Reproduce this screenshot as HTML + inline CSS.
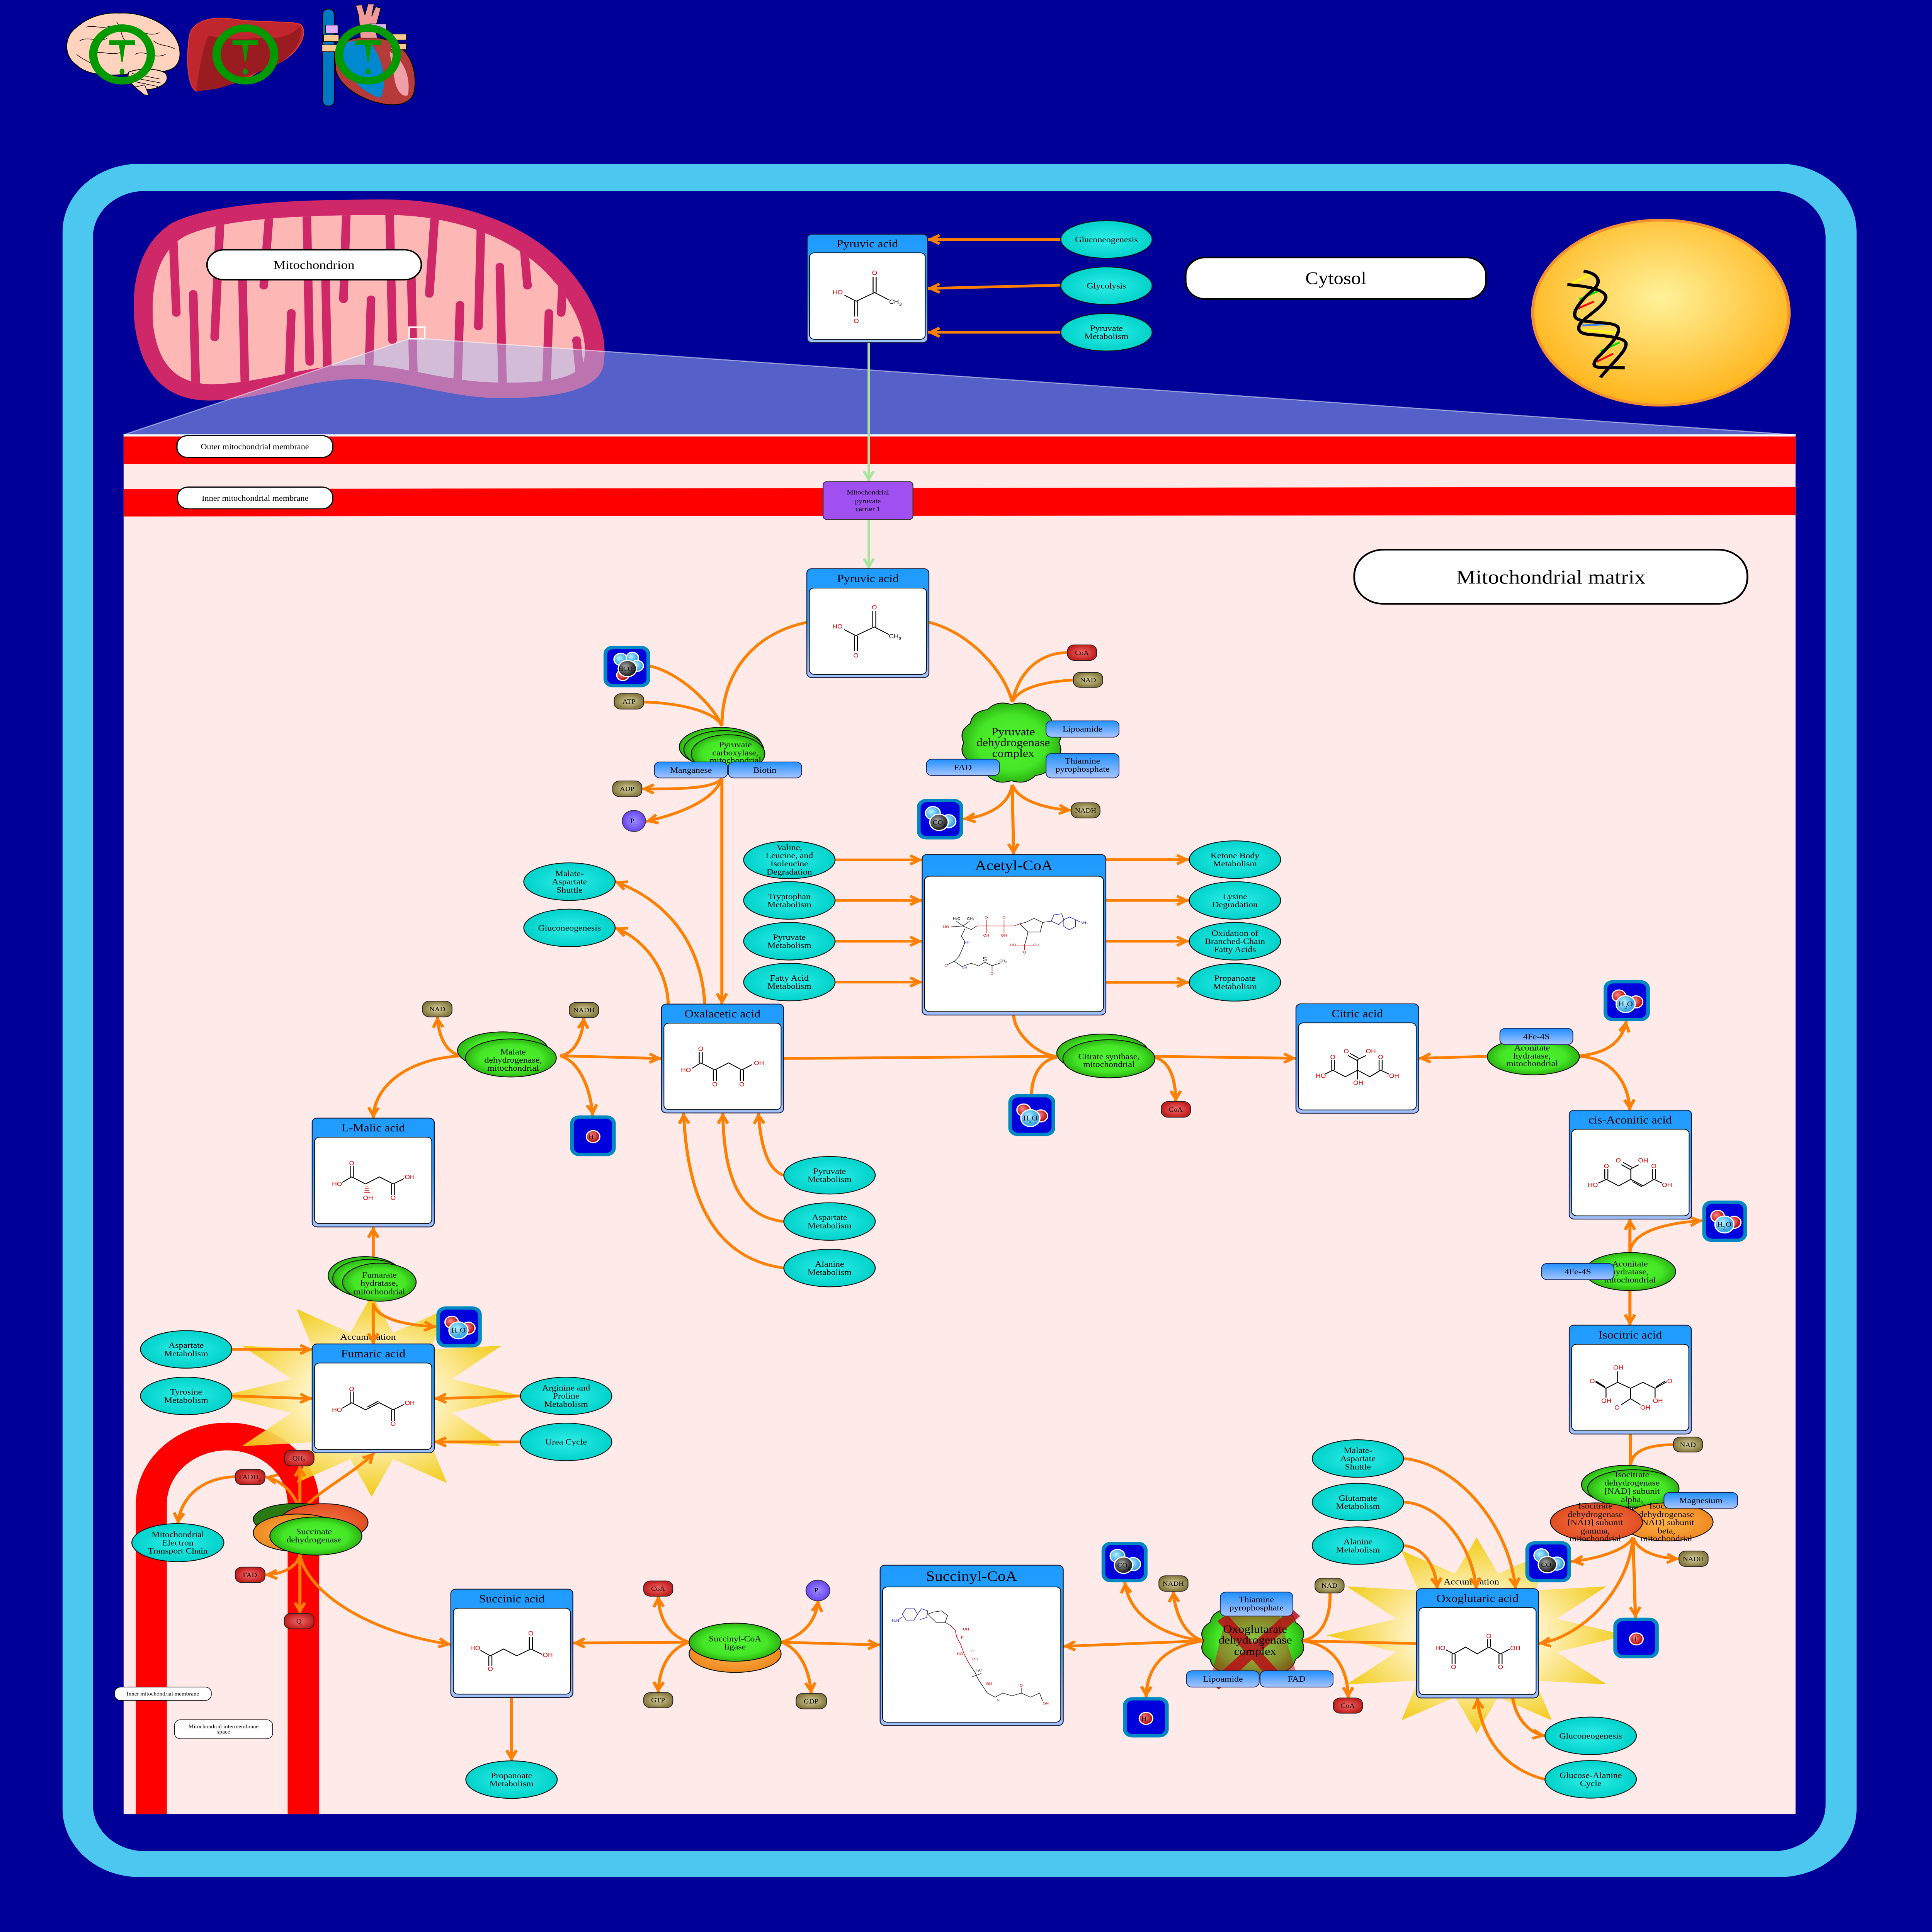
<!DOCTYPE html>
<html><head><meta charset="utf-8">
<style>
html,body{margin:0;padding:0;width:100%;height:100%;overflow:hidden;background:#000099;}
svg{display:block;width:100vw;height:100vh}
text{font-family:"Liberation Serif","DejaVu Serif",serif;text-anchor:middle;fill:#000}
.e{font-size:30px}
.k{font-size:24px}
.ch{font-family:"Liberation Sans","DejaVu Sans",sans-serif;font-size:22px;fill:#E00000}
.cb{font-family:"Liberation Sans","DejaVu Sans",sans-serif;font-size:22px;fill:#000}
.sm{font-family:"Liberation Sans","DejaVu Sans",sans-serif;font-size:13px;fill:#000}
.smr{font-family:"Liberation Sans","DejaVu Sans",sans-serif;font-size:13px;fill:#E00000}
.smb{font-family:"Liberation Sans","DejaVu Sans",sans-serif;font-size:13px;fill:#2020C0}
.c{fill:none;stroke:#FF8000;stroke-width:10}
.b{fill:none;stroke:#000;stroke-width:3}
.cy{fill:url(#cy);stroke:#111;stroke-width:3}
.gr{fill:url(#gr);stroke:#111;stroke-width:3}
.ol{fill:url(#ol);stroke:#222;stroke-width:2.5}
.rd{fill:url(#rd);stroke:#222;stroke-width:2.5}
.lb{fill:url(#lb);stroke:#10205a;stroke-width:2.5}
.bx{fill:url(#bx);stroke:#1a1a3a;stroke-width:3}
.in{fill:#fff;stroke:#000;stroke-width:2.5}
.t40{font-size:40px}
.t52{font-size:52px}
</style></head><body>
<svg width="6300" height="7100" viewBox="0 0 6300 7100" preserveAspectRatio="none" xmlns="http://www.w3.org/2000/svg">
<defs>
<marker id="a" viewBox="0 0 50 40" refX="45" refY="20" markerWidth="50" markerHeight="40" markerUnits="userSpaceOnUse" orient="auto" overflow="visible"><path d="M6,4 L36,20 L6,36" fill="none" stroke="#FF8000" stroke-width="10"/></marker>
<marker id="ag" viewBox="0 0 50 40" refX="45" refY="20" markerWidth="50" markerHeight="40" markerUnits="userSpaceOnUse" orient="auto" overflow="visible"><path d="M6,4 L36,20 L6,36" fill="none" stroke="#A8E4A0" stroke-width="9"/></marker>
<linearGradient id="bx" x1="0" y1="0" x2="0" y2="1"><stop offset="0" stop-color="#1E9BFF"/><stop offset="0.45" stop-color="#2E9FFF"/><stop offset="1" stop-color="#A3C2FF"/></linearGradient>
<linearGradient id="lb" x1="0" y1="0" x2="0" y2="1"><stop offset="0" stop-color="#2090FF"/><stop offset="1" stop-color="#A8C4FF"/></linearGradient>
<radialGradient id="cy"><stop offset="0" stop-color="#30EEE8"/><stop offset="1" stop-color="#00D2CA"/></radialGradient>
<radialGradient id="gr"><stop offset="0" stop-color="#52F532"/><stop offset="0.7" stop-color="#44E626"/><stop offset="1" stop-color="#2CB412"/></radialGradient>
<radialGradient id="ol"><stop offset="0" stop-color="#DAD2A0"/><stop offset="1" stop-color="#85793E"/></radialGradient>
<radialGradient id="rd"><stop offset="0" stop-color="#F46A6A"/><stop offset="1" stop-color="#C21E1E"/></radialGradient>
<radialGradient id="pu"><stop offset="0" stop-color="#A090FF"/><stop offset="1" stop-color="#6644F4"/></radialGradient>
<radialGradient id="or"><stop offset="0" stop-color="#FFB24A"/><stop offset="1" stop-color="#EE8A20"/></radialGradient>
<radialGradient id="orr"><stop offset="0" stop-color="#F87444"/><stop offset="1" stop-color="#E04E22"/></radialGradient>
<radialGradient id="nuc" cx="0.5" cy="0.42" r="0.6"><stop offset="0" stop-color="#FFF29A"/><stop offset="1" stop-color="#FFB216"/></radialGradient>
<radialGradient id="star"><stop offset="0" stop-color="#FFFFF4"/><stop offset="0.45" stop-color="#FFF2B8"/><stop offset="1" stop-color="#F0C800"/></radialGradient>
<radialGradient id="rb" cx="0.4" cy="0.4"><stop offset="0" stop-color="#FF8A8A"/><stop offset="1" stop-color="#C01818"/></radialGradient>
<radialGradient id="bb" cx="0.4" cy="0.4"><stop offset="0" stop-color="#B8F4FF"/><stop offset="1" stop-color="#3AA8E8"/></radialGradient>
<radialGradient id="gb" cx="0.4" cy="0.4"><stop offset="0" stop-color="#B0B0B0"/><stop offset="1" stop-color="#2A2A2A"/></radialGradient>
<radialGradient id="ogx"><stop offset="0" stop-color="#B8B860"/><stop offset="1" stop-color="#C02020"/></radialGradient>
<clipPath id="mclip"><path d="M1267,790 C1480,792 1660,870 1770,990 C1880,1110 1918,1240 1905,1320 C1890,1400 1760,1410 1600,1405 C1450,1400 1300,1340 1170,1340 C1000,1340 850,1410 690,1412 C560,1410 515,1320 500,1200 C490,1060 510,930 600,870 C720,800 1000,790 1267,790Z"/></clipPath>
</defs>

<!-- background & cell -->
<rect width="6300" height="7100" fill="#000099"/>
<rect x="204" y="602" width="5850" height="6296" rx="250" fill="#4CC8F0"/>
<rect x="303" y="702" width="5650" height="6101" rx="170" fill="#000099"/>

<!-- organs -->
<g>
<path d="M245,235 C205,200 210,130 250,100 C290,60 340,45 390,48 C450,45 520,70 560,120 C590,160 595,210 575,240 C560,262 520,268 480,262 C430,268 390,280 340,275 C300,272 270,262 245,235 Z" fill="#FFD3BD" stroke="#000" stroke-width="3"/>
<path d="M420,265 C450,250 520,250 540,270 C560,300 520,330 470,330 C430,325 410,290 420,265Z" fill="#FFD3BD" stroke="#000" stroke-width="3"/>
<path d="M440,320 L470,348 L485,350 L472,312Z" fill="#FFD3BD" stroke="#000" stroke-width="2"/>
<path d="M260,150 C290,130 320,160 350,140 M300,200 C330,180 360,210 400,190 M420,120 C450,100 480,140 520,120 M280,100 C310,90 330,110 360,95 M440,200 C470,180 500,220 540,200 M250,200 C270,220 300,230 320,250 M430,270 L520,290 M430,285 L525,305 M440,300 L515,318 M380,80 C400,110 390,140 420,160 M500,150 C520,170 550,165 570,180" fill="none" stroke="#000" stroke-width="2"/>
<path d="M620,120 C640,70 700,60 760,70 C850,85 950,75 980,90 C1000,110 990,160 950,200 C900,250 850,250 820,280 C790,300 720,320 640,335 C610,320 605,200 620,120Z" fill="#C0262E" stroke="#E04030" stroke-width="3"/>
<path d="M680,130 C750,150 800,140 880,140 C930,140 960,120 980,95 C990,150 950,210 900,240 C850,270 800,270 770,300 C740,320 700,330 640,335 C650,250 660,180 680,130Z" fill="#9A1C20"/>
<path d="M1090,200 C1100,140 1200,120 1270,150 C1340,180 1360,260 1352,330 C1345,380 1300,392 1250,382 C1180,368 1110,320 1095,260 Z" fill="#B53A3A" stroke="#000" stroke-width="3"/>
<path d="M1105,180 C1115,250 1160,330 1240,360 C1265,310 1250,220 1210,160 C1170,140 1120,150 1105,180Z" fill="#0088D0"/>
<path d="M1270,190 C1320,220 1340,290 1330,350 C1310,360 1290,330 1285,280Z" fill="#F0A0A8"/>
<path d="M1175,140 L1170,60 L1160,20 L1180,18 L1190,55 L1200,15 L1220,15 L1212,60 L1225,25 L1242,30 L1225,100 L1230,140Z" fill="#F09A9A" stroke="#000" stroke-width="2"/>
<rect x="1052" y="33" width="38" height="357" rx="19" fill="#0078C4" stroke="#000" stroke-width="3"/>
<rect x="1062" y="92" width="40" height="30" fill="#E0B0FF" stroke="#000" stroke-width="2"/>
<rect x="1205" y="88" width="55" height="28" fill="#E0B0FF" stroke="#000" stroke-width="2"/>
<rect x="1055" y="128" width="50" height="25" fill="#FFC890" stroke="#000" stroke-width="2"/>
<rect x="1050" y="165" width="50" height="25" fill="#FFC890" stroke="#000" stroke-width="2"/>
<rect x="1270" y="125" width="55" height="22" fill="#FFC890" stroke="#000" stroke-width="2"/>
<rect x="1275" y="160" width="50" height="22" fill="#FFC890" stroke="#000" stroke-width="2"/>
<g fill="none" stroke="#009900" stroke-width="27">
<ellipse cx="398" cy="200" rx="94" ry="97"/><ellipse cx="800" cy="200" rx="94" ry="97"/><ellipse cx="1200" cy="200" rx="94" ry="97"/>
</g>
<g fill="#009900">
<rect x="356" y="148" width="84" height="18"/><polygon points="388,166 408,166 400,227 396,227"/><ellipse cx="398" cy="263" rx="8" ry="11"/>
<rect x="758" y="148" width="84" height="18"/><polygon points="790,166 810,166 802,227 798,227"/><ellipse cx="800" cy="263" rx="8" ry="11"/>
<rect x="1158" y="148" width="84" height="18"/><polygon points="1190,166 1210,166 1202,227 1198,227"/><ellipse cx="1200" cy="263" rx="8" ry="11"/>
</g>
</g>

<!-- mitochondrion -->
<path d="M1267,733 C1500,735 1700,820 1820,950 C1940,1080 1985,1230 1968,1340 C1955,1440 1790,1468 1600,1462 C1450,1455 1300,1393 1170,1393 C1000,1393 850,1472 680,1472 C520,1470 460,1350 440,1200 C425,1050 450,900 560,820 C700,740 1000,733 1267,733Z" fill="#CF2868"/>
<path d="M1267,790 C1480,792 1660,870 1770,990 C1880,1110 1918,1240 1905,1320 C1890,1400 1760,1410 1600,1405 C1450,1400 1300,1340 1170,1340 C1000,1340 850,1410 690,1412 C560,1410 515,1320 500,1200 C490,1060 510,930 600,870 C720,800 1000,790 1267,790Z" fill="#FDB8B6"/>
<g clip-path="url(#mclip)" stroke="#CF2868" stroke-width="28" stroke-linecap="round" fill="none">
<path d="M560,760 L575,1150 M720,760 L700,1240 M880,760 L860,1050 M1000,760 L1010,1330 M1130,760 L1120,1100 M1270,760 L1280,1250 M1420,760 L1400,1080 M1570,760 L1560,1200 M1700,800 L1720,1050 M1840,900 L1830,1150"/>
<path d="M640,1480 L630,1080 M800,1480 L790,1000 M940,1480 L950,1150 M1070,1480 L1060,940 M1200,1480 L1210,1100 M1350,1480 L1340,950 M1490,1480 L1500,1120 M1640,1480 L1630,980 M1780,1480 L1790,1150 M1900,1480 L1880,1250"/>
</g>
<rect x="675" y="918" width="699" height="110" rx="55" fill="#fff" stroke="#000" stroke-width="5"/>
<text x="1024" y="988" font-size="44">Mitochondrion</text>

<!-- nucleus -->
<ellipse cx="5416" cy="1149" rx="418" ry="340" fill="url(#nuc)" stroke="#F49030" stroke-width="10"/>
<g stroke-width="7">
<line x1="5125" y1="1042" x2="5185" y2="1008" stroke="#FFFF00"/>
<line x1="5150" y1="1100" x2="5215" y2="1068" stroke="#00E000"/>
<line x1="5132" y1="1140" x2="5198" y2="1108" stroke="#FF0000"/>
<line x1="5160" y1="1196" x2="5262" y2="1190" stroke="#4080FF"/>
<line x1="5155" y1="1212" x2="5270" y2="1222" stroke="#FFFF00"/>
<line x1="5220" y1="1290" x2="5282" y2="1258" stroke="#00E000"/>
<line x1="5205" y1="1330" x2="5260" y2="1300" stroke="#FF0000"/>
</g>
<g fill="none" stroke="#000" stroke-width="11">
<path d="M5164,996 C5230,1010 5215,1050 5190,1070 C5160,1100 5110,1160 5149,1175 C5190,1190 5270,1180 5277,1205 C5285,1235 5230,1290 5205,1320 C5190,1345 5200,1352 5232,1350 L5298,1352"/>
<path d="M5111,1046 C5160,1050 5230,1060 5236,1089 C5240,1115 5190,1150 5165,1175 C5140,1200 5140,1225 5182,1229 C5230,1233 5300,1240 5302,1262 C5305,1290 5260,1330 5219,1387"/>
</g>

<!-- cytosol label -->
<rect x="3866" y="946" width="980" height="153" rx="65" fill="#fff" stroke="#000" stroke-width="6"/>
<text x="4356" y="1044" font-size="64">Cytosol</text>

<!-- matrix -->
<rect x="403" y="1598" width="5452" height="5069" fill="#FFEAEA"/>
<rect x="403" y="1596" width="5452" height="8" fill="#fff"/>
<rect x="403" y="1604" width="5452" height="101" fill="#FF0000"/>
<polygon points="403,1797 5855,1789 5855,1893 403,1898" fill="#FF0000"/>
<!-- lens -->
<polygon points="1334,1245 1385,1245 5855,1598 403,1598" fill="#AAC0F7" fill-opacity="0.5"/>
<path d="M1334,1245 L403,1598 M1385,1245 L5855,1598" stroke="#fff" stroke-opacity="0.5" stroke-width="4"/>
<rect x="1334" y="1202" width="51" height="43" fill="none" stroke="#fff" stroke-width="5"/>

<rect x="577" y="1601" width="508" height="80" rx="35" fill="#fff" stroke="#000" stroke-width="4"/>
<text x="831" y="1651" font-size="28">Outer mitochondrial membrane</text>
<rect x="579" y="1790" width="506" height="80" rx="35" fill="#fff" stroke="#000" stroke-width="4"/>
<text x="832" y="1840" font-size="28">Inner mitochondrial membrane</text>

<rect x="4416" y="2020" width="1282" height="199" rx="95" fill="#fff" stroke="#000" stroke-width="6"/>
<text x="5057" y="2145" font-size="72">Mitochondrial matrix</text>

<!-- red arch membrane -->
<path d="M443,6667 L443,5527 A299,299 0 0 1 1041,5527 L1041,6667 L938,6667 L938,5527 A197,197 0 0 0 544,5527 L544,6667 Z" fill="#FF0000"/>
<rect x="374" y="6200" width="315" height="49" rx="20" fill="#fff" stroke="#000" stroke-width="2"/>
<text x="531" y="6231" font-size="19">Inner mitochondrial membrane</text>
<rect x="569" y="6320" width="320" height="70" rx="20" fill="#fff" stroke="#000" stroke-width="2"/>
<text font-size="19"><tspan x="729" y="6351">Mitochondrial intermembrane</tspan><tspan x="729" y="6371">space</tspan></text>

<!-- starbursts -->
<polygon fill="url(#star)" fill-opacity="0.9" points="1702,5130 1473,5192 1636,5315 1403,5300 1457,5450 1282,5362 1212,5500 1142,5362 967,5450 1021,5300 788,5315 951,5192 722,5130 951,5068 788,4945 1021,4960 967,4810 1142,4898 1212,4760 1282,4898 1457,4810 1403,4960 1636,4945 1473,5068"/>
<polygon fill="url(#star)" fill-opacity="0.9" points="5305,6010 5076,6071 5239,6190 5006,6176 5060,6322 4885,6237 4815,6370 4745,6237 4570,6322 4624,6176 4391,6190 4554,6071 4325,6010 4554,5949 4391,5830 4624,5844 4570,5698 4745,5783 4815,5650 4885,5783 5060,5698 5006,5844 5239,5830 5076,5949"/>
<text x="1200" y="4923" font-size="32">Accumulation</text>
<text x="4798" y="5823" font-size="32">Accumulation</text>

<!-- connectors -->
<path class="c" marker-end="url(#a)" d="M3459,880 L3025,880"/>
<path class="c" marker-end="url(#a)" d="M3459,1048 L3025,1060"/>
<path class="c" marker-end="url(#a)" d="M3459,1221 L3025,1221"/>
<path d="M2833,1259 L2833,1770" stroke="#A8E4A0" stroke-width="8" marker-end="url(#ag)"/>
<path d="M2833,1909 L2833,2092" stroke="#A8E4A0" stroke-width="8" marker-end="url(#ag)"/>

<path class="c" d="M2631,2287 C2450,2330 2354,2480 2354,2668"/>
<path class="c" d="M2120,2448 C2210,2470 2320,2580 2354,2668"/>
<path class="c" d="M2099,2580 C2200,2582 2330,2610 2354,2668"/>
<path class="c" marker-end="url(#a)" d="M2354,2860 C2330,2900 2200,2900 2093,2899"/>
<path class="c" marker-end="url(#a)" d="M2354,2860 C2330,2940 2220,2990 2106,3019"/>
<path class="c" marker-end="url(#a)" d="M2354,2830 L2354,3690"/>
<path class="c" d="M3029,2287 C3150,2320 3270,2450 3301,2580"/>
<path class="c" d="M3481,2398 C3380,2400 3320,2480 3301,2580"/>
<path class="c" d="M3500,2499 C3400,2505 3320,2530 3301,2580"/>
<path class="c" marker-end="url(#a)" d="M3301,2884 C3290,2960 3220,3000 3141,3010"/>
<path class="c" marker-end="url(#a)" d="M3301,2884 C3320,2940 3400,2970 3493,2978"/>
<path class="c" marker-end="url(#a)" d="M3301,2884 L3305,3140"/>
<path class="c" marker-end="url(#a)" d="M2724,3160 L3007,3160"/>
<path class="c" marker-end="url(#a)" d="M2724,3309 L3007,3309"/>
<path class="c" marker-end="url(#a)" d="M2724,3459 L3007,3459"/>
<path class="c" marker-end="url(#a)" d="M2724,3609 L3007,3609"/>
<path class="c" marker-end="url(#a)" d="M3606,3159 L3877,3159"/>
<path class="c" marker-end="url(#a)" d="M3606,3309 L3877,3309"/>
<path class="c" marker-end="url(#a)" d="M3606,3459 L3877,3459"/>
<path class="c" marker-end="url(#a)" d="M3606,3610 L3877,3610"/>
<path class="c" marker-end="url(#a)" d="M2298,3690 C2290,3500 2200,3320 2006,3240"/>
<path class="c" marker-end="url(#a)" d="M2179,3690 C2175,3560 2100,3450 2006,3410"/>
<path class="c" d="M3305,3730 C3310,3800 3380,3875 3446,3882"/>
<path class="c" d="M2555,3890 L3446,3882"/>
<path class="c" d="M3446,3886 C3390,3895 3364,3960 3364,4021"/>
<path class="c" marker-end="url(#a)" d="M3765,3882 L4226,3889"/>
<path class="c" marker-end="url(#a)" d="M3765,3886 C3820,3900 3834,3980 3834,4048"/>
<path class="c" marker-end="url(#a)" d="M4850,3882 L4626,3889"/>
<path class="c" marker-end="url(#a)" d="M5151,3880 C5240,3870 5290,3830 5303,3753"/>
<path class="c" marker-end="url(#a)" d="M5151,3882 C5260,3890 5310,3980 5315,4080"/>
<path class="c" marker-end="url(#a)" d="M5315,4603 L5315,4480"/>
<path class="c" marker-end="url(#a)" d="M5315,4603 C5320,4530 5420,4495 5551,4486"/>
<path class="c" marker-end="url(#a)" d="M5315,4744 L5315,4870"/>
<path class="c" d="M5317,5270 L5317,5390"/>
<path class="c" d="M5457,5309 C5360,5310 5317,5340 5317,5390"/>
<path class="c" marker-end="url(#a)" d="M5325,5650 C5300,5700 5200,5730 5123,5739"/>
<path class="c" marker-end="url(#a)" d="M5325,5650 C5340,5700 5400,5725 5475,5729"/>
<path class="c" marker-end="url(#a)" d="M5325,5650 L5333,5945"/>
<path class="c" marker-end="url(#a)" d="M5325,5650 C5310,5850 5150,6020 5017,6040"/>
<path class="c" d="M4619,6040 L4245,6030"/>
<path class="c" d="M4337,5854 C4340,5960 4300,6020 4245,6030"/>
<path class="c" marker-end="url(#a)" d="M4245,6030 C4340,6040 4396,6120 4396,6240"/>
<path class="c" marker-end="url(#a)" d="M3925,6030 L3467,6050"/>
<path class="c" marker-end="url(#a)" d="M3925,6030 C3780,6010 3680,5930 3668,5815"/>
<path class="c" marker-end="url(#a)" d="M3925,6030 C3860,6010 3830,5920 3826,5848"/>
<path class="c" marker-end="url(#a)" d="M3925,6030 C3800,6050 3740,6120 3737,6237"/>
<path class="c" marker-end="url(#a)" d="M4579,5360 C4750,5380 4920,5600 4942,5838"/>
<path class="c" marker-end="url(#a)" d="M4579,5520 C4700,5530 4800,5680 4814,5838"/>
<path class="c" marker-end="url(#a)" d="M4579,5680 C4650,5690 4680,5760 4687,5838"/>
<path class="c" marker-end="url(#a)" d="M4931,6221 C4935,6300 4980,6370 5038,6379"/>
<path class="c" marker-end="url(#a)" d="M5038,6539 C4900,6500 4830,6380 4817,6240"/>
<path class="c" marker-end="url(#a)" d="M2247,6035 L1868,6038"/>
<path class="c" marker-end="url(#a)" d="M2548,6035 L2870,6045"/>
<path class="c" marker-end="url(#a)" d="M2247,6035 C2180,6010 2150,5950 2146,5866"/>
<path class="c" marker-end="url(#a)" d="M2548,6035 C2620,6010 2660,5960 2668,5883"/>
<path class="c" marker-end="url(#a)" d="M2247,6035 C2180,6060 2150,6130 2146,6220"/>
<path class="c" marker-end="url(#a)" d="M2548,6035 C2610,6060 2640,6140 2645,6223"/>
<path class="c" marker-end="url(#a)" d="M1668,6238 L1668,6471"/>
<path class="c" marker-end="url(#a)" d="M978,5712 C1000,5850 1200,6000 1470,6043"/>
<path class="c" marker-end="url(#a)" d="M978,5560 C1030,5480 1150,5420 1220,5339"/>
<path class="c" marker-end="url(#a)" d="M978,5560 L978,5387"/>
<path class="c" marker-end="url(#a)" d="M978,5560 C965,5490 920,5440 864,5427"/>
<path class="c" marker-end="url(#a)" d="M767,5427 C660,5430 590,5500 580,5599"/>
<path class="c" marker-end="url(#a)" d="M978,5712 C970,5760 920,5785 864,5788"/>
<path class="c" marker-end="url(#a)" d="M978,5712 L978,5929"/>
<path class="c" marker-end="url(#a)" d="M1217,4618 L1217,4509"/>
<path class="c" marker-end="url(#a)" d="M1217,4790 L1217,4939"/>
<path class="c" marker-end="url(#a)" d="M1217,4790 C1230,4850 1330,4870 1423,4876"/>
<path class="c" marker-end="url(#a)" d="M1506,3880 C1330,3890 1220,3990 1217,4109"/>
<path class="c" marker-end="url(#a)" d="M1506,3880 C1450,3870 1430,3800 1426,3737"/>
<path class="c" marker-end="url(#a)" d="M1826,3880 C1880,3870 1900,3800 1904,3740"/>
<path class="c" marker-end="url(#a)" d="M1826,3880 L2157,3890"/>
<path class="c" marker-end="url(#a)" d="M1826,3880 C1890,3900 1925,4000 1933,4099"/>
<path class="c" marker-end="url(#a)" d="M756,4959 L1018,4959"/>
<path class="c" marker-end="url(#a)" d="M756,5130 L1018,5140"/>
<path class="c" marker-end="url(#a)" d="M1697,5130 L1416,5140"/>
<path class="c" marker-end="url(#a)" d="M1697,5299 L1416,5299"/>
<path class="c" marker-end="url(#a)" d="M2556,4319 C2500,4300 2480,4200 2473,4090"/>
<path class="c" marker-end="url(#a)" d="M2556,4489 C2400,4470 2360,4300 2357,4090"/>
<path class="c" marker-end="url(#a)" d="M2556,4660 C2300,4620 2240,4350 2229,4090"/>

<!-- carrier -->
<rect x="2684" y="1770" width="293" height="139" rx="12" fill="#A050F0" stroke="#333" stroke-width="3"/>
<text font-size="24"><tspan x="2830" y="1817">Mitochondrial</tspan><tspan x="2830" y="1849">pyruvate</tspan><tspan x="2830" y="1878">carrier 1</tspan></text>

<!-- boxes -->
<g>
<rect class="bx" x="2632" y="861" width="393" height="398" rx="16"/><rect class="in" x="2640" y="929" width="377" height="318" rx="16"/><text class="t40" x="2828" y="909">Pyruvic acid</text>
<rect class="bx" x="2631" y="2090" width="398" height="400" rx="16"/><rect class="in" x="2639" y="2161" width="382" height="317" rx="16"/><text class="t40" x="2830" y="2139">Pyruvic acid</text>
<rect class="bx" x="3007" y="3140" width="599" height="590" rx="16"/><rect class="in" x="3015" y="3220" width="583" height="498" rx="16"/><text class="t52" x="3306" y="3198">Acetyl-CoA</text>
<rect class="bx" x="2157" y="3690" width="398" height="400" rx="16"/><rect class="in" x="2165" y="3760" width="382" height="318" rx="16"/><text class="t40" x="2356" y="3739">Oxalacetic acid</text>
<rect class="bx" x="4226" y="3689" width="400" height="402" rx="16"/><rect class="in" x="4234" y="3759" width="384" height="320" rx="16"/><text class="t40" x="4426" y="3738">Citric acid</text>
<rect class="bx" x="5117" y="4080" width="399" height="400" rx="16"/><rect class="in" x="5125" y="4150" width="383" height="318" rx="16"/><text class="t40" x="5316" y="4129">cis-Aconitic acid</text>
<rect class="bx" x="5117" y="4870" width="398" height="400" rx="16"/><rect class="in" x="5125" y="4940" width="382" height="318" rx="16"/><text class="t40" x="5316" y="4919">Isocitric acid</text>
<rect class="bx" x="4619" y="5838" width="398" height="402" rx="16"/><rect class="in" x="4627" y="5908" width="382" height="320" rx="16"/><text class="t40" x="4818" y="5887">Oxoglutaric acid</text>
<rect class="bx" x="2870" y="5752" width="597" height="589" rx="16"/><rect class="in" x="2878" y="5832" width="581" height="497" rx="16"/><text class="t52" x="3168" y="5810">Succinyl-CoA</text>
<rect class="bx" x="1470" y="5840" width="398" height="398" rx="16"/><rect class="in" x="1478" y="5910" width="382" height="316" rx="16"/><text class="t40" x="1669" y="5889">Succinic acid</text>
<rect class="bx" x="1018" y="4939" width="398" height="400" rx="16"/><rect class="in" x="1026" y="5009" width="382" height="318" rx="16"/><text class="t40" x="1217" y="4988">Fumaric acid</text>
<rect class="bx" x="1018" y="4109" width="398" height="400" rx="16"/><rect class="in" x="1026" y="4179" width="382" height="318" rx="16"/><text class="t40" x="1217" y="4158">L-Malic acid</text>
</g>

<!-- structures -->
<g transform="translate(2632,861)">
<path class="b" d="M122,224 L160,246 L220,214 L268,242 M215,214 L215,156 M225,214 L225,156 M155,246 L155,302 M165,246 L165,302"/>
<text class="ch" x="220" y="149">O</text><text class="ch" x="160" y="326">O</text><text class="ch" x="100" y="220">HO</text><text class="cb" x="288" y="256">CH<tspan font-size="16" dy="6">3</tspan></text>
</g>
<g transform="translate(2631,2090)">
<path class="b" d="M122,224 L160,246 L220,214 L268,242 M215,214 L215,156 M225,214 L225,156 M155,246 L155,302 M165,246 L165,302"/>
<text class="ch" x="220" y="149">O</text><text class="ch" x="160" y="326">O</text><text class="ch" x="100" y="220">HO</text><text class="cb" x="288" y="256">CH<tspan font-size="16" dy="6">3</tspan></text>
</g>
<g transform="translate(2157,3690)">
<path class="b" d="M100,236 L128,216 L174,242 L219,216 L262,242 L296,222 M123,216 L123,175 M133,216 L133,175 M169,242 L169,283 M179,242 L179,283 M257,242 L257,283 M267,242 L267,283"/>
<text class="ch" x="80" y="250">HO</text><text class="ch" x="128" y="172">O</text><text class="ch" x="174" y="302">O</text><text class="ch" x="262" y="302">O</text><text class="ch" x="318" y="224">OH</text>
</g>
<g transform="translate(4226,3689)">
<path class="b" d="M95,258 L120,244 L161,268 L201,244 L241,268 L276,244 L303,258 M115,244 L115,206 M125,244 L125,206 M201,244 L201,205 M199,208 L170,190 M205,200 L176,182 M201,205 L228,190 M201,244 L201,278 M271,244 L271,206 M281,244 L281,206"/>
<text class="ch" x="120" y="203">O</text><text class="ch" x="81" y="272">HO</text><text class="ch" x="164" y="182">O</text><text class="ch" x="244" y="182">OH</text><text class="ch" x="203" y="298">OH</text><text class="ch" x="276" y="203">O</text><text class="ch" x="320" y="272">OH</text>
</g>
<g transform="translate(5117,4080)">
<path class="b" d="M95,268 L121,254 L161,278 L201,254 L241,278 L276,254 L303,268 M116,254 L116,216 M126,254 L126,216 M201,254 L201,215 M199,218 L170,200 M205,210 L176,192 M201,215 L228,200 M206,262 L238,282 M271,254 L271,216 M281,254 L281,216"/>
<text class="ch" x="121" y="213">O</text><text class="ch" x="77" y="282">HO</text><text class="ch" x="160" y="192">O</text><text class="ch" x="241" y="192">OH</text><text class="ch" x="276" y="213">O</text><text class="ch" x="319" y="282">OH</text>
</g>
<g transform="translate(5117,4870)">
<path class="b" d="M85,208 L120,232 L158,210 L200,232 L240,210 L280,232 L318,208 M120,232 L120,266 M158,210 L158,170 M200,232 L200,270 L170,292 M200,270 L232,292 M280,232 L280,266 M116,226 L88,206 M284,226 L312,206"/>
<text class="ch" x="160" y="163">OH</text><text class="ch" x="75" y="213">O</text><text class="ch" x="121" y="285">OH</text><text class="ch" x="156" y="310">O</text><text class="ch" x="248" y="310">OH</text><text class="ch" x="289" y="285">OH</text><text class="ch" x="328" y="213">O</text>
</g>
<g transform="translate(4619,5838)">
<path class="b" d="M96,225 L121,240 L160,215 L198,240 L236,215 L274,240 L305,222 M116,240 L116,278 M126,240 L126,278 M231,215 L231,185 M241,215 L241,185 M269,240 L269,278 M279,240 L279,278"/>
<text class="ch" x="78" y="226">HO</text><text class="ch" x="121" y="296">O</text><text class="ch" x="236" y="182">O</text><text class="ch" x="322" y="226">OH</text><text class="ch" x="274" y="296">O</text>
</g>
<g transform="translate(1470,5840)">
<path class="b" d="M97,225 L129,245 L172,220 L215,245 L261,220 L298,240 M124,245 L124,283 M134,245 L134,283 M256,220 L256,175 M266,220 L266,175"/>
<text class="ch" x="80" y="224">HO</text><text class="ch" x="129" y="301">O</text><text class="ch" x="261" y="170">O</text><text class="ch" x="316" y="250">OH</text>
</g>
<g transform="translate(1018,4939)">
<path class="b" d="M98,236 L129,216 L174,242 L219,216 L264,242 L300,222 M124,216 L124,175 M134,216 L134,175 M180,232 L216,210 M259,242 L259,283 M269,242 L269,283"/>
<text class="ch" x="129" y="173">O</text><text class="ch" x="81" y="250">HO</text><text class="ch" x="318" y="224">OH</text><text class="ch" x="264" y="301">O</text>
</g>
<g transform="translate(1018,4109)">
<path class="b" d="M98,236 L129,216 L174,242 L219,216 L264,242 L300,222 M124,216 L124,175 M134,216 L134,175 M259,242 L259,283 M269,242 L269,283"/>
<path d="M174,250 L182,250 M172,258 L184,258 M171,266 L186,266 M170,274 L188,274" stroke="#E00" stroke-width="2"/>
<text class="ch" x="129" y="173">O</text><text class="ch" x="81" y="250">HO</text><text class="ch" x="318" y="224">OH</text><text class="ch" x="182" y="301">OH</text><text class="ch" x="264" y="301">O</text>
</g>
<!-- acetyl-CoA structure -->
<g transform="translate(3007,3140)">
<g fill="none" stroke="#222" stroke-width="2">
<path d="M95,266 L133,263 L112,246 M133,263 L154,246 M133,263 L160,276 L178,263"/>
<path d="M140,272 L128,300 L140,322 L130,350 L120,375 L105,393 L130,412 L160,400 L185,410 L204,396 L228,409 L258,398 M228,409 L228,430 M105,393 L82,405"/>
<path d="M318,255 L337,250 L365,235 L393,250 L385,285 L345,285 Z M393,250 L421,245"/>
<path d="M345,285 L340,310 L334,333"/>
</g>
<path d="M178,263 L300,263 M209,263 L209,240 M267,263 L267,240 M209,263 L209,288 M267,263 L267,288 M300,263 L318,255 M305,333 L365,333 M334,333 L334,352" stroke="#E00" stroke-width="2" fill="none"/>
<path d="M421,245 L430,222 L455,218 L462,240 L445,258 Z M462,240 L480,230 L500,240 L500,265 L480,277 L462,265 Z M500,240 L515,248" stroke="#2020C0" stroke-width="2" fill="none"/>
<text class="smr" x="78" y="270">HO</text><text class="sm" x="112" y="240">H₃C</text><text class="sm" x="158" y="240">CH₃</text>
<text class="smr" x="209" y="236">O</text><text class="smr" x="267" y="236">O</text><text class="smr" x="209" y="302">OH</text><text class="smr" x="267" y="302">OH</text>
<text class="smr" x="296" y="337">HO</text><text class="smr" x="372" y="337">OH</text><text class="smr" x="334" y="364">O</text>
<text class="smb" x="528" y="255">NH₂</text><text class="smb" x="145" y="328">NH</text><text class="smb" x="138" y="420">NH</text>
<text class="smr" x="78" y="412">O</text><text class="cb" x="204" y="392" font-size="13">S</text><text class="smr" x="228" y="442">O</text><text class="sm" x="264" y="396">CH₃</text>
</g>
<!-- succinyl-CoA structure -->
<g transform="translate(2870,5752)">
<path d="M72,180 L85,158 L110,158 L122,180 L110,202 L85,202 Z M122,180 L135,160 L155,168 L152,192 L130,200 M60,200 L72,190" stroke="#2020C0" stroke-width="2" fill="none"/>
<path d="M155,180 L175,172 L200,168 L220,185 L212,210 L182,210 Z M212,210 L230,222" stroke="#222" stroke-width="2" fill="none"/>
<path d="M230,222 L245,240 L250,265 L262,290 L272,320 L282,345 L295,370" stroke="#E00" stroke-width="2" fill="none"/>
<path d="M295,370 L310,395 L320,420 L335,445 L350,470 L375,485 L400,470 L430,480 L460,470 L490,485 L520,470 L530,500 M300,410 L330,398 M460,470 L460,450" stroke="#222" stroke-width="2" fill="none"/>
<text class="smb" x="50" y="208">H₂N</text><text class="smr" x="280" y="240">OH</text><text class="smr" x="268" y="270">P</text><text class="smr" x="300" y="320">O</text><text class="smr" x="260" y="330">HO</text><text class="smr" x="310" y="350">OH</text>
<text class="sm" x="320" y="390">H₃C</text><text class="smr" x="355" y="440">OH</text><text class="smb" x="385" y="500">N</text><text class="smr" x="460" y="446">O</text><text class="smr" x="540" y="512">OH</text>
</g>

<!-- cyan ellipses -->
<g>
<ellipse class="cy" cx="3608" cy="880" rx="149" ry="69"/><text class="e" x="3608" y="890">Gluconeogenesis</text>
<ellipse class="cy" cx="3608" cy="1050" rx="149" ry="69"/><text class="e" x="3608" y="1060">Glycolysis</text>
<ellipse class="cy" cx="3608" cy="1221" rx="149" ry="69"/><text class="e"><tspan x="3608" y="1216">Pyruvate</tspan><tspan x="3608" y="1246">Metabolism</tspan></text>
<ellipse class="cy" cx="2574" cy="3160" rx="149" ry="69"/><text class="e"><tspan x="2574" y="3124">Valine,</tspan><tspan x="2574" y="3154">Leucine, and</tspan><tspan x="2574" y="3184">Isoleucine</tspan><tspan x="2574" y="3214">Degradation</tspan></text>
<ellipse class="cy" cx="2574" cy="3309" rx="149" ry="69"/><text class="e"><tspan x="2574" y="3304">Tryptophan</tspan><tspan x="2574" y="3334">Metabolism</tspan></text>
<ellipse class="cy" cx="2574" cy="3459" rx="149" ry="69"/><text class="e"><tspan x="2574" y="3454">Pyruvate</tspan><tspan x="2574" y="3484">Metabolism</tspan></text>
<ellipse class="cy" cx="2574" cy="3609" rx="149" ry="69"/><text class="e"><tspan x="2574" y="3604">Fatty Acid</tspan><tspan x="2574" y="3634">Metabolism</tspan></text>
<ellipse class="cy" cx="4027" cy="3159" rx="149" ry="69"/><text class="e"><tspan x="4027" y="3154">Ketone Body</tspan><tspan x="4027" y="3184">Metabolism</tspan></text>
<ellipse class="cy" cx="4027" cy="3309" rx="149" ry="69"/><text class="e"><tspan x="4027" y="3304">Lysine</tspan><tspan x="4027" y="3334">Degradation</tspan></text>
<ellipse class="cy" cx="4027" cy="3459" rx="149" ry="69"/><text class="e"><tspan x="4027" y="3439">Oxidation of</tspan><tspan x="4027" y="3469">Branched-Chain</tspan><tspan x="4027" y="3499">Fatty Acids</tspan></text>
<ellipse class="cy" cx="4027" cy="3610" rx="149" ry="69"/><text class="e"><tspan x="4027" y="3605">Propanoate</tspan><tspan x="4027" y="3635">Metabolism</tspan></text>
<ellipse class="cy" cx="1857" cy="3240" rx="149" ry="69"/><text class="e"><tspan x="1857" y="3220">Malate-</tspan><tspan x="1857" y="3250">Aspartate</tspan><tspan x="1857" y="3280">Shuttle</tspan></text>
<ellipse class="cy" cx="1857" cy="3410" rx="149" ry="69"/><text class="e" x="1857" y="3420">Gluconeogenesis</text>
<ellipse class="cy" cx="2705" cy="4319" rx="149" ry="69"/><text class="e"><tspan x="2705" y="4314">Pyruvate</tspan><tspan x="2705" y="4344">Metabolism</tspan></text>
<ellipse class="cy" cx="2705" cy="4489" rx="149" ry="69"/><text class="e"><tspan x="2705" y="4484">Aspartate</tspan><tspan x="2705" y="4514">Metabolism</tspan></text>
<ellipse class="cy" cx="2705" cy="4660" rx="149" ry="69"/><text class="e"><tspan x="2705" y="4655">Alanine</tspan><tspan x="2705" y="4685">Metabolism</tspan></text>
<ellipse class="cy" cx="607" cy="4959" rx="149" ry="69"/><text class="e"><tspan x="607" y="4954">Aspartate</tspan><tspan x="607" y="4984">Metabolism</tspan></text>
<ellipse class="cy" cx="607" cy="5130" rx="149" ry="69"/><text class="e"><tspan x="607" y="5125">Tyrosine</tspan><tspan x="607" y="5155">Metabolism</tspan></text>
<ellipse class="cy" cx="1846" cy="5130" rx="149" ry="69"/><text class="e"><tspan x="1846" y="5110">Arginine and</tspan><tspan x="1846" y="5140">Proline</tspan><tspan x="1846" y="5170">Metabolism</tspan></text>
<ellipse class="cy" cx="1846" cy="5299" rx="149" ry="69"/><text class="e" x="1846" y="5309">Urea Cycle</text>
<ellipse class="cy" cx="580" cy="5669" rx="150" ry="70"/><text class="e"><tspan x="580" y="5649">Mitochondrial</tspan><tspan x="580" y="5679">Electron</tspan><tspan x="580" y="5709">Transport Chain</tspan></text>
<ellipse class="cy" cx="1668" cy="6540" rx="149" ry="69"/><text class="e"><tspan x="1668" y="6535">Propanoate</tspan><tspan x="1668" y="6565">Metabolism</tspan></text>
<ellipse class="cy" cx="4428" cy="5360" rx="149" ry="69"/><text class="e"><tspan x="4428" y="5340">Malate-</tspan><tspan x="4428" y="5370">Aspartate</tspan><tspan x="4428" y="5400">Shuttle</tspan></text>
<ellipse class="cy" cx="4428" cy="5520" rx="149" ry="69"/><text class="e"><tspan x="4428" y="5515">Glutamate</tspan><tspan x="4428" y="5545">Metabolism</tspan></text>
<ellipse class="cy" cx="4428" cy="5680" rx="149" ry="69"/><text class="e"><tspan x="4428" y="5675">Alanine</tspan><tspan x="4428" y="5705">Metabolism</tspan></text>
<ellipse class="cy" cx="5187" cy="6379" rx="149" ry="69"/><text class="e" x="5187" y="6389">Gluconeogenesis</text>
<ellipse class="cy" cx="5187" cy="6539" rx="149" ry="69"/><text class="e"><tspan x="5187" y="6534">Glucose-Alanine</tspan><tspan x="5187" y="6564">Cycle</tspan></text>
</g>

<!-- enzymes -->
<ellipse class="gr" cx="2350" cy="2745" rx="135" ry="72"/>
<ellipse class="gr" cx="2360" cy="2755" rx="130" ry="70"/>
<ellipse class="gr" cx="2374" cy="2770" rx="120" ry="70"/>
<text class="e"><tspan x="2398" y="2746">Pyruvate</tspan><tspan x="2398" y="2776">carboxylase,</tspan><tspan x="2398" y="2804">mitochondrial</tspan></text>
<rect class="lb" x="2134" y="2800" width="238" height="59" rx="18"/><text class="e" x="2253" y="2840">Manganese</text>
<rect class="lb" x="2375" y="2800" width="239" height="59" rx="18"/><text class="e" x="2494" y="2840">Biotin</text>

<path class="gr" d="M3453,2729 Q3472,2771 3432,2799 Q3425,2844 3376,2850 Q3345,2886 3298,2869 Q3251,2886 3220,2850 Q3171,2844 3164,2799 Q3124,2771 3143,2729 Q3124,2687 3164,2659 Q3171,2614 3220,2608 Q3251,2572 3298,2589 Q3345,2572 3376,2608 Q3425,2614 3432,2659 Q3472,2687 3453,2729Z"/>
<text class="t40"><tspan x="3304" y="2702">Pyruvate</tspan><tspan x="3304" y="2742">dehydrogenase</tspan><tspan x="3304" y="2782">complex</tspan></text>
<rect class="lb" x="3411" y="2649" width="238" height="60" rx="18"/><text class="e" x="3530" y="2689">Lipoamide</text>
<rect class="lb" x="3411" y="2769" width="238" height="90" rx="18"/><text class="e"><tspan x="3530" y="2806">Thiamine</tspan><tspan x="3530" y="2836">pyrophosphate</tspan></text>
<rect class="lb" x="3021" y="2790" width="238" height="60" rx="18"/><text class="e" x="3140" y="2830">FAD</text>

<ellipse class="gr" cx="3596" cy="3870" rx="150" ry="70"/>
<ellipse class="gr" cx="3616" cy="3891" rx="150" ry="70"/>
<text class="e"><tspan x="3616" y="3892">Citrate synthase,</tspan><tspan x="3616" y="3921">mitochondrial</tspan></text>

<ellipse class="gr" cx="5000" cy="3883" rx="150" ry="67"/>
<text class="e"><tspan x="4996" y="3860">Aconitate</tspan><tspan x="4996" y="3890">hydratase,</tspan><tspan x="4996" y="3918">mitochondrial</tspan></text>
<rect class="lb" x="4891" y="3779" width="238" height="60" rx="18"/><text class="e" x="5010" y="3819">4Fe-4S</text>

<ellipse class="gr" cx="5316" cy="4673" rx="148" ry="70"/>
<text class="e"><tspan x="5315" y="4654">Aconitate</tspan><tspan x="5315" y="4683">hydratase,</tspan><tspan x="5315" y="4713">mitochondrial</tspan></text>
<rect class="lb" x="5027" y="4643" width="236" height="60" rx="18"/><text class="e" x="5145" y="4683">4Fe-4S</text>

<ellipse class="gr" cx="5305" cy="5456" rx="148" ry="71"/>
<ellipse class="gr" cx="5326" cy="5470" rx="149" ry="69"/>
<text class="e"><tspan x="5322" y="5429">Isocitrate</tspan><tspan x="5322" y="5459">dehydrogenase</tspan><tspan x="5322" y="5490">[NAD] subunit</tspan><tspan x="5322" y="5520">alpha,</tspan><tspan x="5322" y="5550">mitochondrial</tspan></text>
<ellipse cx="5437" cy="5593" rx="149" ry="70" fill="url(#or)" stroke="#111" stroke-width="3"/>
<text class="e"><tspan x="5434" y="5544">Isocitrate</tspan><tspan x="5434" y="5575">dehydrogenase</tspan><tspan x="5434" y="5605">[NAD] subunit</tspan><tspan x="5434" y="5635">beta,</tspan><tspan x="5434" y="5664">mitochondrial</tspan></text>
<ellipse cx="5206" cy="5593" rx="150" ry="70" fill="url(#orr)" stroke="#111" stroke-width="3"/>
<text class="e"><tspan x="5202" y="5544">Isocitrate</tspan><tspan x="5202" y="5575">dehydrogenase</tspan><tspan x="5202" y="5605">[NAD] subunit</tspan><tspan x="5202" y="5635">gamma,</tspan><tspan x="5202" y="5664">mitochondrial</tspan></text>
<rect class="lb" x="5426" y="5485" width="240" height="58" rx="18"/><text class="e" x="5546" y="5524">Magnesium</text>

<path class="gr" d="M4245,6030 Q4264,6071 4224,6098 Q4216,6142 4165,6147 Q4133,6183 4085,6165 Q4037,6183 4005,6147 Q3954,6142 3946,6098 Q3906,6071 3925,6030 Q3906,5989 3946,5962 Q3954,5918 4005,5913 Q4037,5877 4085,5895 Q4133,5877 4165,5913 Q4216,5918 4224,5962 Q4264,5989 4245,6030Z"/>
<polygon points="4000,5930 4170,5930 4230,6160 3950,6160" fill="url(#ogx)" fill-opacity="0.55"/>
<path d="M4225,5925 L3960,6195 M3985,5945 L4150,6150" stroke="#B80E18" stroke-width="40" stroke-opacity="0.85"/>
<text class="t40"><tspan x="4093" y="6000">Oxoglutarate</tspan><tspan x="4093" y="6040">dehydrogenase</tspan><tspan x="4093" y="6082">complex</tspan></text>
<rect class="lb" x="3979" y="5851" width="237" height="88" rx="18"/><text class="e"><tspan x="4097" y="5888">Thiamine</tspan><tspan x="4097" y="5918">pyrophosphate</tspan></text>
<rect class="lb" x="3869" y="6140" width="237" height="60" rx="18"/><text class="e" x="3988" y="6180">Lipoamide</text>
<rect class="lb" x="4109" y="6140" width="238" height="60" rx="18"/><text class="e" x="4228" y="6180">FAD</text>

<ellipse cx="2397" cy="6078" rx="150" ry="68" fill="url(#or)" stroke="#111" stroke-width="3"/>
<ellipse class="gr" cx="2397" cy="6035" rx="150" ry="70"/>
<text class="e"><tspan x="2397" y="6032">Succinyl-CoA</tspan><tspan x="2397" y="6061">ligase</tspan></text>

<ellipse cx="968" cy="5583" rx="142" ry="58" fill="#2A7A12" stroke="#111" stroke-width="3"/>
<ellipse cx="1055" cy="5595" rx="145" ry="69" fill="url(#orr)" stroke="#111" stroke-width="3"/>
<ellipse cx="973" cy="5633" rx="147" ry="69" fill="url(#or)" stroke="#111" stroke-width="3"/>
<ellipse class="gr" cx="1030" cy="5645" rx="150" ry="70"/>
<text class="e"><tspan x="1024" y="5638">Succinate</tspan><tspan x="1024" y="5668">dehydrogenase</tspan></text>

<ellipse class="gr" cx="1190" cy="4688" rx="120" ry="70"/>
<ellipse class="gr" cx="1205" cy="4698" rx="120" ry="70"/>
<ellipse class="gr" cx="1237" cy="4712" rx="120" ry="70"/>
<text class="e"><tspan x="1237" y="4695">Fumarate</tspan><tspan x="1237" y="4725">hydratase,</tspan><tspan x="1237" y="4756">mitochondrial</tspan></text>

<ellipse class="gr" cx="1640" cy="3860" rx="148" ry="68"/>
<ellipse class="gr" cx="1666" cy="3888" rx="148" ry="70"/>
<text class="e"><tspan x="1673" y="3875">Malate</tspan><tspan x="1673" y="3905">dehydrogenase,</tspan><tspan x="1673" y="3935">mitochondrial</tspan></text>

<!-- small molecules -->
<g>
<rect class="ol" x="2003" y="2549" width="96" height="57" rx="22"/><text class="k" x="2051" y="2586">ATP</text>
<rect class="ol" x="1998" y="2870" width="95" height="58" rx="22"/><text class="k" x="2045" y="2907">ADP</text>
<rect class="ol" x="3500" y="2471" width="96" height="55" rx="22"/><text class="k" x="3548" y="2507">NAD</text>
<rect class="ol" x="3493" y="2950" width="94" height="56" rx="22"/><text class="k" x="3540" y="2986">NADH</text>
<rect class="ol" x="1378" y="3679" width="96" height="58" rx="22"/><text class="k" x="1426" y="3716">NAD</text>
<rect class="ol" x="1856" y="3684" width="96" height="56" rx="22"/><text class="k" x="1904" y="3720">NADH</text>
<rect class="ol" x="5457" y="5281" width="95" height="55" rx="22"/><text class="k" x="5504" y="5317">NAD</text>
<rect class="ol" x="5475" y="5700" width="95" height="57" rx="22"/><text class="k" x="5522" y="5737">NADH</text>
<rect class="ol" x="3779" y="5791" width="95" height="57" rx="22"/><text class="k" x="3826" y="5828">NADH</text>
<rect class="ol" x="4288" y="5800" width="95" height="54" rx="22"/><text class="k" x="4335" y="5835">NAD</text>
<rect class="ol" x="2099" y="6220" width="95" height="56" rx="22"/><text class="k" x="2146" y="6256">GTP</text>
<rect class="ol" x="2596" y="6223" width="99" height="57" rx="22"/><text class="k" x="2645" y="6260">GDP</text>
<rect class="rd" x="3481" y="2370" width="95" height="57" rx="22"/><text class="k" x="3528" y="2407">CoA</text>
<rect class="rd" x="3787" y="4048" width="95" height="58" rx="22"/><text class="k" x="3834" y="4085">CoA</text>
<rect class="rd" x="4348" y="6240" width="95" height="56" rx="22"/><text class="k" x="4395" y="6276">CoA</text>
<rect class="rd" x="2099" y="5810" width="95" height="56" rx="22"/><text class="k" x="2146" y="5846">CoA</text>
<rect class="rd" x="767" y="5400" width="97" height="56" rx="22"/><text class="k" x="815" y="5436">FADH<tspan font-size="17" dy="6">2</tspan></text>
<rect class="rd" x="927" y="5330" width="97" height="57" rx="22"/><text class="k" x="975" y="5367">QH<tspan font-size="17" dy="6">2</tspan></text>
<rect class="rd" x="767" y="5759" width="97" height="57" rx="22"/><text class="k" x="815" y="5796">FAD</text>
<rect class="rd" x="927" y="5929" width="97" height="57" rx="22"/><text class="k" x="975" y="5966">Q</text>
<ellipse cx="2067" cy="3017" rx="38" ry="39" fill="url(#pu)" stroke="#333" stroke-width="2.5"/><text class="k" x="2064" y="3024">P<tspan font-size="17" dy="8">i</tspan></text>
<ellipse cx="2667" cy="5845" rx="39" ry="38" fill="url(#pu)" stroke="#333" stroke-width="2.5"/><text class="k" x="2664" y="5852">P<tspan font-size="17" dy="8">i</tspan></text>
</g>

<!-- icons -->
<g transform="translate(1968,2373)">
<rect width="152" height="153" rx="30" fill="#0088C2"/><rect x="12" y="12" width="128" height="129" rx="20" fill="#0000DC"/>
<circle cx="56" cy="50" r="22" fill="url(#bb)" stroke="#fff" stroke-width="4"/><circle cx="94" cy="44" r="20" fill="url(#bb)" stroke="#fff" stroke-width="4"/><circle cx="110" cy="74" r="20" fill="url(#bb)" stroke="#fff" stroke-width="4"/>
<circle cx="63" cy="108" r="20" fill="url(#rb)" stroke="#fff" stroke-width="4"/><circle cx="78" cy="84" r="30" fill="url(#gb)" stroke="#fff" stroke-width="4"/>
<text x="78" y="92" font-size="22">HCO<tspan font-size="15" dy="7">3</tspan><tspan font-size="15" dy="-16">-</tspan></text>
</g>
<g transform="translate(2990,2936)">
<rect width="151" height="149" rx="30" fill="#0088C2"/><rect x="12" y="12" width="127" height="125" rx="20" fill="#0000DC"/>
<circle cx="52" cy="52" r="24" fill="url(#bb)" stroke="#fff" stroke-width="4"/><circle cx="103" cy="82" r="24" fill="url(#bb)" stroke="#fff" stroke-width="4"/><circle cx="72" cy="86" r="30" fill="url(#gb)" stroke="#fff" stroke-width="4"/>
<text x="72" y="94" font-size="24">CO<tspan font-size="16" dy="8">2</tspan></text>
</g>
<g transform="translate(4974,5664)">
<rect width="149" height="151" rx="30" fill="#0088C2"/><rect x="12" y="12" width="125" height="127" rx="20" fill="#0000DC"/>
<circle cx="52" cy="52" r="24" fill="url(#bb)" stroke="#fff" stroke-width="4"/><circle cx="103" cy="82" r="24" fill="url(#bb)" stroke="#fff" stroke-width="4"/><circle cx="72" cy="86" r="30" fill="url(#gb)" stroke="#fff" stroke-width="4"/>
<text x="72" y="94" font-size="24">CO<tspan font-size="16" dy="8">2</tspan></text>
</g>
<g transform="translate(3592,5666)">
<rect width="150" height="149" rx="30" fill="#0088C2"/><rect x="12" y="12" width="126" height="125" rx="20" fill="#0000DC"/>
<circle cx="52" cy="52" r="24" fill="url(#bb)" stroke="#fff" stroke-width="4"/><circle cx="103" cy="82" r="24" fill="url(#bb)" stroke="#fff" stroke-width="4"/><circle cx="72" cy="86" r="30" fill="url(#gb)" stroke="#fff" stroke-width="4"/>
<text x="72" y="94" font-size="24">CO<tspan font-size="16" dy="8">2</tspan></text>
</g>
<g transform="translate(3288,4021)">
<rect width="153" height="154" rx="30" fill="#0088C2"/><rect x="12" y="12" width="129" height="130" rx="20" fill="#0000DC"/>
<circle cx="50" cy="58" r="22" fill="url(#rb)" stroke="#fff" stroke-width="4"/><circle cx="106" cy="80" r="22" fill="url(#rb)" stroke="#fff" stroke-width="4"/><circle cx="72" cy="88" r="31" fill="url(#bb)" stroke="#fff" stroke-width="4"/>
<text x="72" y="96" font-size="26">H<tspan font-size="18" dy="10">2</tspan><tspan dy="-10">O</tspan></text>
</g>
<g transform="translate(5229,3602)">
<rect width="151" height="151" rx="30" fill="#0088C2"/><rect x="12" y="12" width="127" height="127" rx="20" fill="#0000DC"/>
<circle cx="50" cy="58" r="22" fill="url(#rb)" stroke="#fff" stroke-width="4"/><circle cx="106" cy="80" r="22" fill="url(#rb)" stroke="#fff" stroke-width="4"/><circle cx="72" cy="88" r="31" fill="url(#bb)" stroke="#fff" stroke-width="4"/>
<text x="72" y="96" font-size="26">H<tspan font-size="18" dy="10">2</tspan><tspan dy="-10">O</tspan></text>
</g>
<g transform="translate(5551,4412)">
<rect width="146" height="152" rx="30" fill="#0088C2"/><rect x="12" y="12" width="122" height="128" rx="20" fill="#0000DC"/>
<circle cx="50" cy="58" r="22" fill="url(#rb)" stroke="#fff" stroke-width="4"/><circle cx="104" cy="80" r="22" fill="url(#rb)" stroke="#fff" stroke-width="4"/><circle cx="72" cy="88" r="31" fill="url(#bb)" stroke="#fff" stroke-width="4"/>
<text x="72" y="96" font-size="26">H<tspan font-size="18" dy="10">2</tspan><tspan dy="-10">O</tspan></text>
</g>
<g transform="translate(1423,4801)">
<rect width="148" height="151" rx="30" fill="#0088C2"/><rect x="12" y="12" width="124" height="127" rx="20" fill="#0000DC"/>
<circle cx="50" cy="58" r="22" fill="url(#rb)" stroke="#fff" stroke-width="4"/><circle cx="104" cy="80" r="22" fill="url(#rb)" stroke="#fff" stroke-width="4"/><circle cx="72" cy="88" r="31" fill="url(#bb)" stroke="#fff" stroke-width="4"/>
<text x="72" y="96" font-size="26">H<tspan font-size="18" dy="10">2</tspan><tspan dy="-10">O</tspan></text>
</g>
<g transform="translate(1859,4099)">
<rect width="149" height="150" rx="30" fill="#0088C2"/><rect x="12" y="12" width="125" height="126" rx="20" fill="#0000DC"/>
<circle cx="75" cy="78" r="22" fill="url(#rb)" stroke="#fff" stroke-width="4"/><text x="73" y="86" font-size="22">H<tspan font-size="16" dy="-12">+</tspan></text>
</g>
<g transform="translate(5261,5945)">
<rect width="148" height="149" rx="30" fill="#0088C2"/><rect x="12" y="12" width="124" height="125" rx="20" fill="#0000DC"/>
<circle cx="75" cy="78" r="22" fill="url(#rb)" stroke="#fff" stroke-width="4"/><text x="73" y="86" font-size="22">H<tspan font-size="16" dy="-12">+</tspan></text>
</g>
<g transform="translate(3662,6237)">
<rect width="149" height="148" rx="30" fill="#0088C2"/><rect x="12" y="12" width="125" height="124" rx="20" fill="#0000DC"/>
<circle cx="75" cy="78" r="22" fill="url(#rb)" stroke="#fff" stroke-width="4"/><text x="73" y="86" font-size="22">H<tspan font-size="16" dy="-12">+</tspan></text>
</g>
</svg>
</body></html>
